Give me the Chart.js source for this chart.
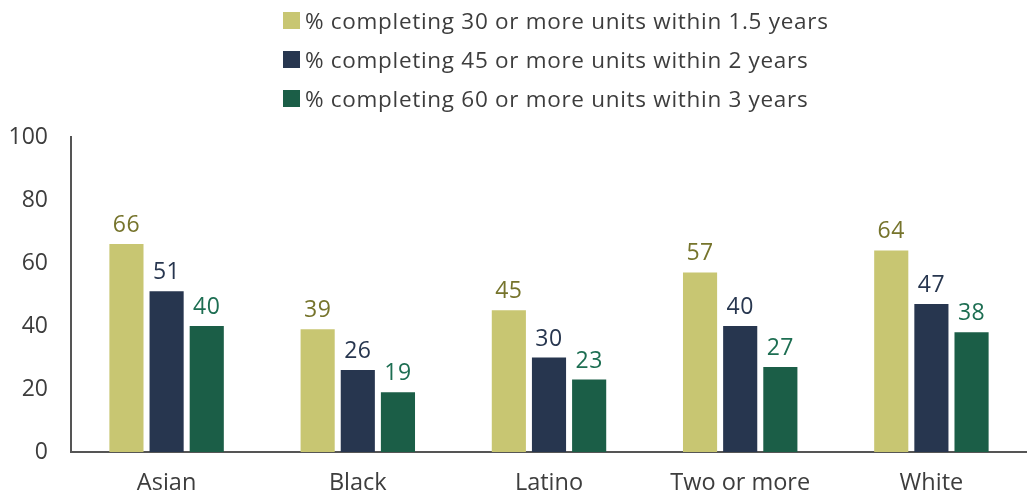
<!DOCTYPE html>
<html>
<head>
<meta charset="utf-8">
<script src="https://cdn.jsdelivr.net/npm/chart.js@4.4.1/dist/chart.umd.min.js"></script>
<style>
  html, body { margin: 0; padding: 0; background: #fff; }
  #wrap { position: relative; width: 1027px; height: 495px; }
  #legend { position: absolute; left: 283px; top: 1px; font-family: "Open Sans", sans-serif; font-size: 22.5px; letter-spacing: 0.7px; color: #3d3d3d; }
  #legend div { height: 39px; display: flex; align-items: center; }
  #legend span.box { display: inline-block; width: 17px; height: 17px; margin-right: 5px; }
</style>
</head>
<body>
<div id="wrap">
  <canvas id="chart" width="1027" height="495"></canvas>
  <div id="legend"></div>
</div>
<script>
const categories = ["Asian", "Black", "Latino", "Two or more", "White"];
const seriesNames = [
  "% completing 30 or more units within 1.5 years",
  "% completing 45 or more units within 2 years",
  "% completing 60 or more units within 3 years"
];
const units30 = [66, 39, 45, 57, 64];
const units45 = [51, 26, 30, 40, 47];
const units60 = [40, 19, 23, 27, 38];
const yTicks = [0, 20, 40, 60, 80, 100];

const barColors = ["#c8c672", "#27364f", "#1b5e47"];
const labelColors = ["#76742c", "#27364f", "#1d6e52"];
const fontFamily = "'Open Sans', sans-serif";

// legend in html, stacked
const legendEl = document.getElementById("legend");
seriesNames.forEach(function (name, i) {
  const row = document.createElement("div");
  row.innerHTML = '<span class="box" style="background:' + barColors[i] + '"></span>' + name;
  legendEl.appendChild(row);
});

// value labels above bars
const valueLabels = {
  id: "valueLabels",
  afterDatasetsDraw(chart) {
    const ctx = chart.ctx;
    ctx.save();
    ctx.font = "23px " + fontFamily;
    ctx.letterSpacing = "0.5px";
    ctx.textAlign = "center";
    ctx.textBaseline = "bottom";
    chart.data.datasets.forEach(function (ds, i) {
      const meta = chart.getDatasetMeta(i);
      ctx.fillStyle = labelColors[i];
      meta.data.forEach(function (bar, j) {
        ctx.fillText(ds.data[j], bar.x, bar.y - 7);
      });
    });
    ctx.restore();
  }
};

new Chart(document.getElementById("chart"), {
  type: "bar",
  data: {
    labels: categories,
    datasets: [
      { label: seriesNames[0], data: units30, backgroundColor: barColors[0] },
      { label: seriesNames[1], data: units45, backgroundColor: barColors[1] },
      { label: seriesNames[2], data: units60, backgroundColor: barColors[2] }
    ]
  },
  options: {
    responsive: false,
    animation: false,
    categoryPercentage: 0.63,
    barPercentage: 0.85,
    layout: { padding: { top: 137, right: 0, bottom: 0, left: 0 } },
    plugins: { legend: { display: false }, tooltip: { enabled: false } },
    scales: {
      x: {
        afterFit: function (scale) { scale.height = 43; },
        grid: { display: false },
        border: { color: "#555", width: 2 },
        ticks: { color: "#3d3d3d", padding: 9, font: { family: fontFamily, size: 23.5 } }
      },
      y: {
        min: 0,
        max: 100,
        afterBuildTicks: function (scale) { scale.ticks = yTicks.map(function (v) { return { value: v }; }); },
        afterFit: function (scale) { scale.width = 71; },
        grid: { display: false },
        border: { color: "#555", width: 2 },
        ticks: { color: "#3d3d3d", padding: 15, font: { family: fontFamily, size: 23 } }
      }
    }
  },
  plugins: [valueLabels]
});
</script>
</body>
</html>
